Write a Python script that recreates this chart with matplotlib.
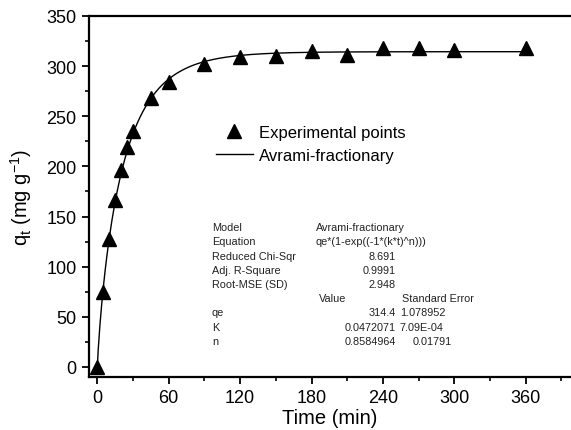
import numpy as np
import matplotlib
matplotlib.use('Agg')
import matplotlib.pyplot as plt

plt.rcParams['font.family'] = ['Liberation Sans', 'DejaVu Sans']
plt.rcParams['mathtext.default'] = 'regular'

# experimental data
time_min = [0, 5, 10, 15, 20, 25, 30, 45, 60, 90, 120, 150, 180, 210, 240, 270, 300, 360]
qt = [0, 75, 128, 167, 196, 219, 235, 268, 284, 302, 309, 310, 315, 311, 318, 318, 316, 318]

# fitted parameters shown in the chart
qe = 314.4
k = 0.0472071
n = 0.8584964

stats_rows = [
    ('Model', 'Avrami-fractionary'),
    ('Equation', 'qe*(1-exp((-1*(k*t)^n)))'),
    ('Reduced Chi-Sqr', '8.691'),
    ('Adj. R-Square', '0.9991'),
    ('Root-MSE (SD)', '2.948'),
]
param_names = ['qe', 'K', 'n']
param_values = ['314.4', '0.0472071', '0.8584964']
param_errors = ['1.078952', '7.09E-04', '0.01791']

W, H = 571, 431
fig = plt.figure(figsize=(W / 100, H / 100), dpi=100)
ax = fig.add_axes([89 / W, 1 - 378 / H, 1 - 89 / W, (378 - 17) / H])

t_fit = np.linspace(0, 360, 500)
q_fit = qe * (1 - np.exp(-(k * t_fit) ** n))

ax.plot(t_fit, q_fit, color='black', lw=1.0, label='Avrami-fractionary', zorder=2)
ax.plot(time_min, qt, ls='none', marker='^', ms=9.5, color='black',
        label='Experimental points', zorder=3)

ax.set_xlim(-7, 398)
ax.set_ylim(-10, 350)
ax.set_xticks(np.arange(0, 361, 60))
ax.set_xticks(np.arange(0, 391, 30), minor=True)
ax.set_yticks(np.arange(0, 351, 50))
ax.set_yticks(np.arange(0, 351, 25), minor=True)
ax.tick_params(which='major', direction='out', length=5, width=1.3, labelsize=13, pad=4)
ax.tick_params(which='minor', direction='out', length=3, width=1.2)
ax.tick_params(axis='y', which='both', right=False)
ax.tick_params(axis='x', which='both', top=False)
for s in ['left', 'bottom', 'top']:
    ax.spines[s].set_linewidth(1.6)
ax.spines['right'].set_visible(False)

ax.set_xlabel('Time (min)', fontsize=14.5, labelpad=1)
ax.set_ylabel('q$_t$ (mg g$^{-1}$)', fontsize=14.5, labelpad=9)

handles, labels = ax.get_legend_handles_labels()
ax.legend(handles[::-1], labels[::-1], loc='upper left',
          bbox_to_anchor=(216 / W, 1 - 126 / H), bbox_transform=fig.transFigure,
          frameon=False, fontsize=12, numpoints=1, handlelength=2.2,
          handletextpad=0.4, borderpad=0, borderaxespad=0, labelspacing=0.45)

# statistics table
txt_color = '#222222'
fs = 7.8
row_y = [228, 242, 257, 271, 285]
for (name, val), y in zip(stats_rows, row_y):
    fig.text(212 / W, 1 - y / H, name, fontsize=fs, color=txt_color, va='center')
    if name in ('Model', 'Equation'):
        fig.text(316 / W, 1 - y / H, val, fontsize=fs, color=txt_color, va='center')
    else:
        fig.text(396 / W, 1 - y / H, val, fontsize=fs, color=txt_color, va='center', ha='right')

fig.text(333 / W, 1 - 299 / H, 'Value', fontsize=fs, color=txt_color, va='center', ha='center')
fig.text(438 / W, 1 - 299 / H, 'Standard Error', fontsize=fs, color=txt_color, va='center', ha='center')
err_x = [400, 400, 413]
for name, val, err, y, ex in zip(param_names, param_values, param_errors, [313, 328, 342], err_x):
    fig.text(212 / W, 1 - y / H, name, fontsize=fs, color=txt_color, va='center')
    fig.text(396 / W, 1 - y / H, val, fontsize=fs, color=txt_color, va='center', ha='right')
    fig.text(ex / W, 1 - y / H, err, fontsize=fs, color=txt_color, va='center')

fig.savefig('out.png', dpi=100)
